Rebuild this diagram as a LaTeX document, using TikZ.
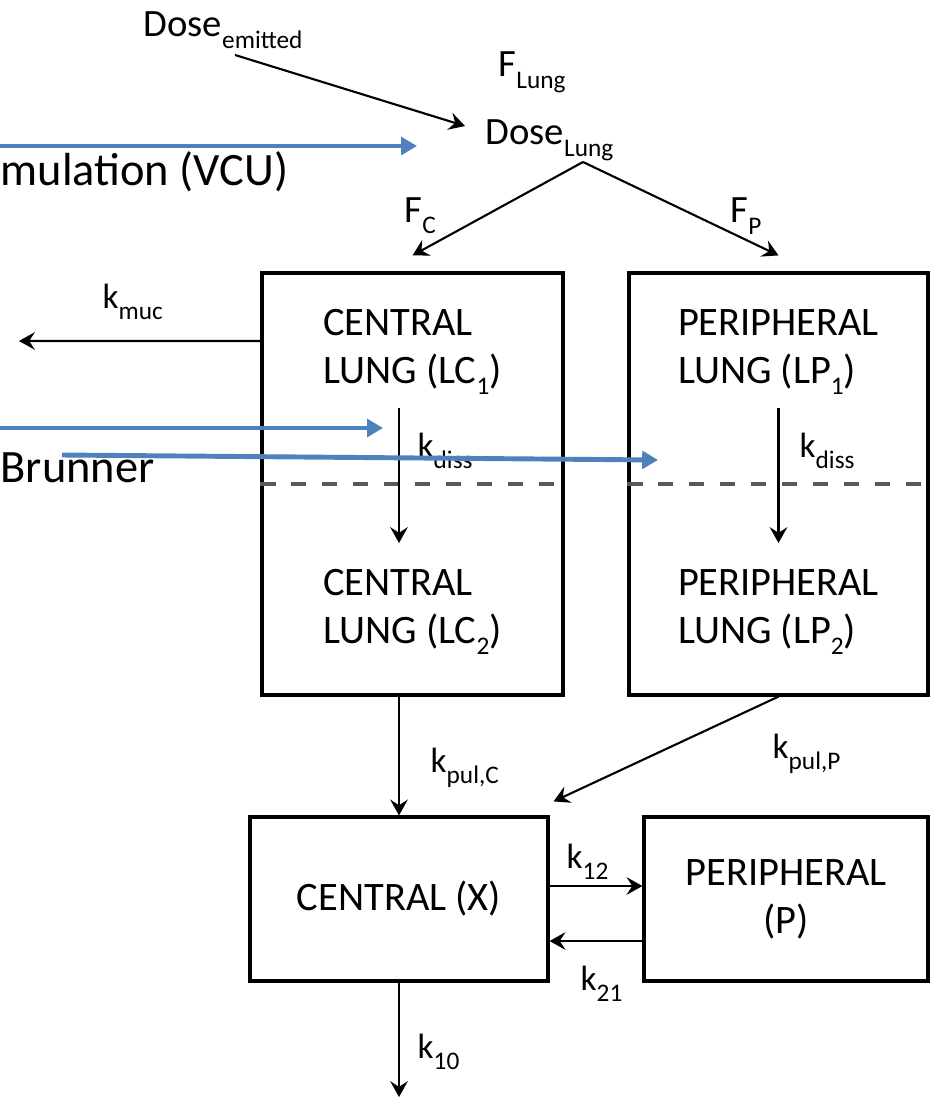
\documentclass[tikz,border=0pt]{standalone}
\usepackage{fontspec}
\setmainfont{Carlito}
\usetikzlibrary{arrows.meta}
\definecolor{hintblue}{RGB}{79,129,189}
\newcommand{\lowidx}[1]{\raisebox{-3.2pt}{\fontsize{7.2}{8}\selectfont #1}}

\begin{document}
\begin{tikzpicture}[>={Stealth[length=4.5pt,width=5pt,inset=1.6pt]},
        compart/.style={draw, line width=0.9pt, inner sep=0pt},
        boxtext/.style={font=\fontsize{11.5}{13.6}\selectfont, align=left, inner sep=0pt},
        rate/.style={font=\fontsize{10}{12}\selectfont, inner sep=0pt, anchor=base west},
        dosetext/.style={font=\fontsize{11}{13}\selectfont, inner sep=0pt, anchor=base west},
        flow/.style={->, line width=0.6pt},
        divider/.style={line width=1.2pt, gray!70!black, dash pattern=on 4.3pt off 4.5pt},
        hint/.style={-{Triangle[length=4.5pt,width=5pt]}, hintblue, line width=1.4pt},
        hinttext/.style={font=\fontsize{13.2}{15}\selectfont, inner sep=0pt}]

            \useasboundingbox (0,0) rectangle (9.32,-11);
            \clip (0,0) rectangle (9.32,-11);

            % the four compartments
            \node[compart, minimum width=3.01cm, minimum height=4.22cm] (lc) at (4.125,-4.84) {};
            \node[compart, minimum width=2.99cm, minimum height=4.22cm] (lp) at (7.785,-4.84) {};
            \node[compart, minimum width=2.98cm, minimum height=1.64cm, font=\fontsize{11.5}{13.6}\selectfont] (cx) at (3.99,-8.99) {CENTRAL (X)};
            \node[compart, minimum width=2.84cm, minimum height=1.64cm, font=\fontsize{11.5}{13.6}\selectfont, align=center] (cp) at (7.86,-8.99) {PERIPHERAL\\(P)};

            % split line in the lung boxes
            \draw[divider] (lc.west) -- (lc.east);
            \draw[divider] (lp.west) -- (lp.east);

            % texts in the lung boxes
            \node[boxtext, anchor=base] (lc1) at (4.125,-3.83) {CENTRAL\\LUNG (LC\lowidx{1})};
            \node[boxtext, anchor=base] (lp1) at (7.785,-3.83) {PERIPHERAL\\LUNG (LP\lowidx{1})};
            \node[boxtext, anchor=base] (lc2) at (4.125,-6.43) {CENTRAL\\LUNG (LC\lowidx{2})};
            \node[boxtext, anchor=base] (lp2) at (7.785,-6.43) {PERIPHERAL\\LUNG (LP\lowidx{2})};

            % doses at the top
            \node[dosetext] (emit) at (1.43,-0.37) {Dose\lowidx{emitted}};
            \node[dosetext] (flung) at (4.98,-0.77) {F\lowidx{Lung}};
            \node[dosetext] (dlung) at (4.85,-1.45) {Dose\lowidx{Lung}};
            \coordinate (split) at (5.83,-1.62);
            \draw[flow] ([shift={(0.92,-0.18)}]emit.base west) -- ([shift={(-0.20,0.19)}]dlung.base west);
            \draw[flow] (split) -- ([yshift=0.16cm]lc.north);
            \draw[flow] (split) -- ([yshift=0.16cm]lp.north);
            \node[dosetext] (fc) at (4.04,-2.22) {F\lowidx{C}};
            \node[dosetext] (fp) at (7.30,-2.23) {F\lowidx{P}};

            % mucociliary clearance
            \coordinate (mucout) at (0.19,-3.41);
            \draw[flow] ([yshift=1.43cm]lc.west) -- (mucout);
            \node[rate] (kmuc) at (1.02,-3.08) {k\lowidx{muc}};

            % dissolution
            \draw[flow] ([yshift=0.76cm]lc.center -| cx.north) -- ([yshift=-0.59cm]lc.center -| cx.north);
            \draw[flow] ([yshift=0.76cm]lp.center) -- ([yshift=-0.59cm]lp.center);
            \node[rate] (kdissc) at (4.17,-4.57) {k\lowidx{diss}};
            \node[rate] (kdissp) at (7.99,-4.57) {k\lowidx{diss}};

            % absorption to the systemic part
            \draw[flow] (lc.south -| cx.north) -- (cx.north);
            \draw[flow] (lp.south) -- ([shift={(0.04,0.14)}]cx.north east);
            \node[rate] (kpulc) at (4.30,-7.72) {k\lowidx{pul,C}};
            \node[rate] (kpulp) at (7.72,-7.58) {k\lowidx{pul,P}};

            % distribution and elimination
            \draw[flow] ([yshift=0.13cm]cx.east) -- ([yshift=0.13cm]cp.west);
            \draw[flow] ([yshift=-0.42cm]cp.west) -- ([yshift=-0.42cm]cx.east);
            \node[rate] (k12) at (5.66,-8.68) {k\lowidx{12}};
            \node[rate] (k21) at (5.80,-9.90) {k\lowidx{21}};
            \coordinate (elimout) at (3.99,-10.97);
            \draw[flow] (cx.south) -- (elimout);
            \node[rate] (k10) at (4.17,-10.58) {k\lowidx{10}};

            % blue call-outs
            \coordinate (vcutail) at (0,-1.46);
            \coordinate (vcutip) at (4.17,-1.46);
            \draw[hint] (vcutail) -- (vcutip);
            \node[hinttext, anchor=base west] (vcu) at (0,-1.85) {mulation (VCU)};
            \coordinate (lctail) at (0,-4.28);
            \coordinate (lctip) at (3.83,-4.28);
            \draw[hint] (lctail) -- (lctip);
            \coordinate (lptail) at (0.62,-4.55);
            \coordinate (lptip) at (6.58,-4.60);
            \draw[hint] (lptail) -- (lptip);
            \node[hinttext, anchor=base west] (brun) at (0,-4.82) {Brunner};
        \end{tikzpicture}
\end{document}
